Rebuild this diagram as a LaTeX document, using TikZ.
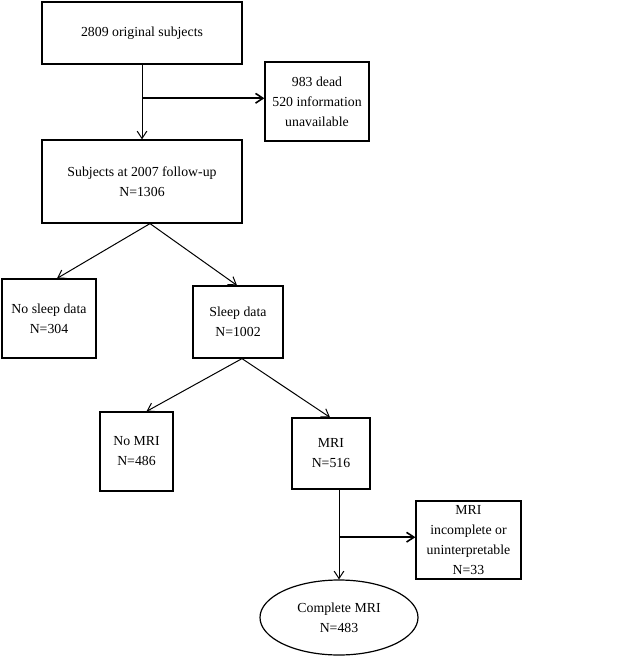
\documentclass[tikz,border=0pt]{standalone}
\usepackage{fontspec}
\setmainfont{Liberation Serif}
\usetikzlibrary{positioning,arrows.meta,calc,shapes.geometric}
\tikzset{
  box/.style={rectangle, draw=black, line width=1.2pt, fill=white,
              align=center, inner sep=0pt,
              font=\fontsize{13.8}{20}\selectfont},
  oval/.style={ellipse, draw=black, line width=1.2pt, fill=white,
               align=center, inner sep=0pt,
               font=\fontsize{13.8}{20}\selectfont},
  flow/.style={-{Straight Barb[length=2.6mm,width=3.4mm]}, draw=black, line width=1pt},
  flowb/.style={flow, line width=1.6pt},
}

\begin{document}
\begin{tikzpicture}[x=1pt,y=-1pt]
  \useasboundingbox (0,0) rectangle (642,658);
  % --- enrolment and follow-up -----------------------------------------------
  \node[box, minimum width=200pt, minimum height=62pt] (orig) at (142,33) {2809 original subjects};
  \node[box, minimum width=104pt, minimum height=79pt] (lost) at (317,101.5) {983 dead\\ 520 information\\ unavailable};
  \node[box, minimum width=200pt, minimum height=83pt] (fup) at (142,181.5) {Subjects at 2007 follow-up\\ N=1306};

  % --- sleep data split ------------------------------------------------------
  \node[box, minimum width=94pt, minimum height=79pt] (nosleep) at (49,318.5) {No sleep data\\ N=304};
  \node[box, minimum width=90pt, minimum height=72pt] (sleep) at (238,322) {Sleep data\\ N=1002};

  % --- MRI split -------------------------------------------------------------
  \node[box, minimum width=73pt, minimum height=79pt] (nomri) at (136.5,451.5) {No MRI\\ N=486};
  \node[box, minimum width=78pt, minimum height=71pt] (mri) at (331,453.5) {MRI\\ N=516};
  \node[box, minimum width=105pt, minimum height=78pt] (incomp) at (468.5,540) {MRI\\ incomplete or\\ uninterpretable\\ N=33};
  \node[oval, minimum width=158pt, minimum height=75pt] (complete) at (339,617.5) {Complete MRI\\ N=483};

  % --- connectors ------------------------------------------------------------
  \draw[flow] (orig.south) -- (fup.north);
  \coordinate (j1) at ($(orig.south)!0.45!(fup.north)$);
  \draw[flowb] (j1) -- (j1 -| lost.west);

  \draw[flow] ([xshift=8pt]fup.south) -- ([xshift=8pt]nosleep.north);
  \draw[flow] ([xshift=8pt]fup.south) -- ([xshift=-1pt]sleep.north);

  \draw[flow] ([xshift=4pt]sleep.south) -- ([xshift=10pt]nomri.north);
  \draw[flow] ([xshift=4pt]sleep.south) -- ([xshift=-1pt]mri.north);

  \coordinate (m1) at (complete.north |- mri.south);
  \draw[flow] (m1) -- (complete.north);
  \coordinate (j2) at ($(m1)!0.53!(complete.north)$);
  \draw[flowb] (j2) -- (j2 -| incomp.west);
\end{tikzpicture}
\end{document}
